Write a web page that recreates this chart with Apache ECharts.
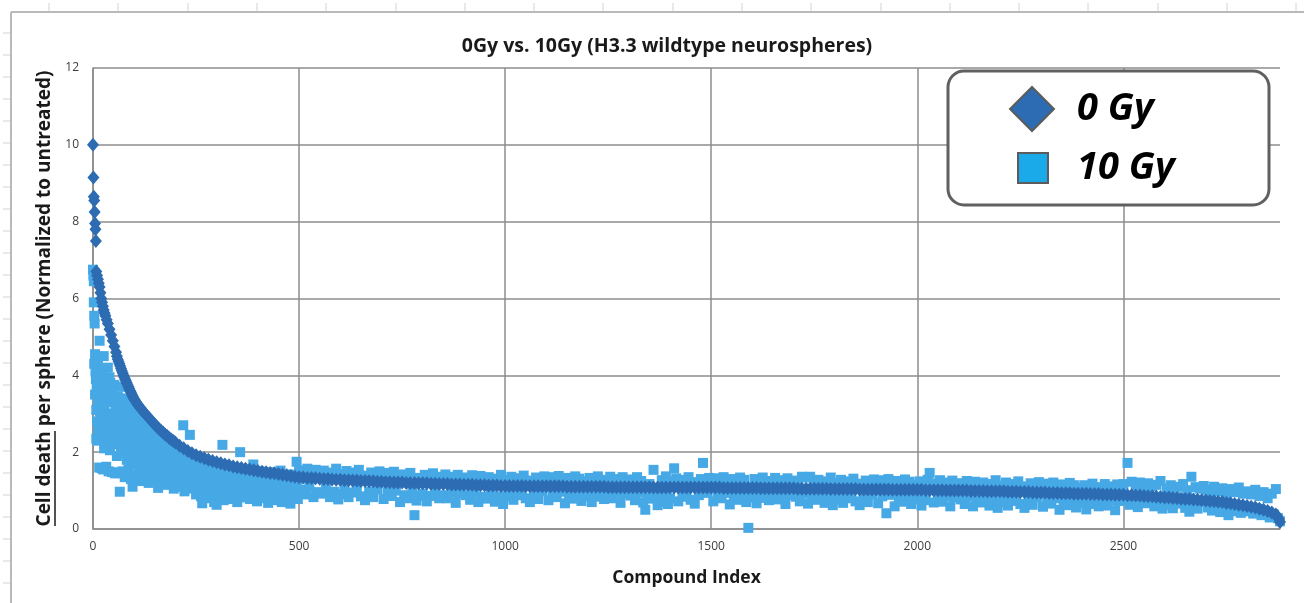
<!DOCTYPE html>
<html>
<head>
<meta charset="utf-8">
<script src="https://cdn.jsdelivr.net/npm/echarts@6/dist/echarts.min.js"></script>
<style>
  html, body { margin: 0; padding: 0; background: #ffffff; }
  #chart { width: 1304px; height: 603px; }
</style>
</head>
<body>
<div id="chart"></div>
<script>
const DARK = "#2d6cb2";
const LIGHT = "#46a9e6";
const FONT = "Open Sans";

// 0 Gy: sorted values; first few points read one by one, then every 10th compound
const zeroGyHead = [[0, 10.0], [1, 9.15], [2, 8.65], [3, 8.55], [4, 8.25], [5, 7.95], [6, 7.8], [7, 7.5],
  [8, 6.7], [10, 6.6], [12, 6.5], [14, 6.4], [16, 6.3], [18, 6.15], [20, 6.0], [22, 5.9], [24, 5.8],
  [26, 5.7], [28, 5.62], [30, 5.55], [33, 5.45], [36, 5.35], [40, 5.2], [44, 5.05], [48, 4.9],
  [52, 4.75], [56, 4.6]];
// extra readings where the 0 Gy curve bends steeply
const zeroGyBend = [[58, 4.5], [62, 4.36], [64, 4.3], [66, 4.24], [68, 4.18], [72, 4.06], [74, 4.0],
  [76, 3.95], [78, 3.9], [82, 3.8], [84, 3.75], [86, 3.7], [88, 3.65], [92, 3.56], [94, 3.51], [96, 3.46],
  [98, 3.42], [102, 3.35], [105, 3.3], [108, 3.25], [112, 3.19], [115, 3.15], [118, 3.11], [125, 3.02],
  [135, 2.9], [145, 2.78], [155, 2.66], [165, 2.56], [175, 2.46], [185, 2.37], [195, 2.29]];
const zeroGyStart = 60;
const zeroGyStep = 10;
const zeroGyBody = [
  4.42, 4.12, 3.85, 3.6, 3.38, 3.22, 3.08, 2.96, 2.84, 2.72,
  2.61, 2.51, 2.42, 2.33, 2.25, 2.17, 2.1, 2.03, 1.97, 1.92,
  1.88, 1.84, 1.8, 1.77, 1.74, 1.71, 1.68, 1.66, 1.63, 1.61,
  1.59, 1.57, 1.55, 1.53, 1.51, 1.49, 1.48, 1.46, 1.45, 1.43,
  1.41, 1.4, 1.38, 1.36,
  1.35, 1.34, 1.33, 1.33, 1.32, 1.31, 1.3, 1.3, 1.29, 1.28,
  1.28, 1.27, 1.27, 1.26, 1.26, 1.25, 1.25, 1.24, 1.24, 1.23,
  1.23, 1.22, 1.22, 1.21, 1.21, 1.21, 1.2, 1.2, 1.2, 1.19,
  1.19, 1.19, 1.18, 1.18, 1.17, 1.17, 1.17, 1.16, 1.16, 1.16,
  1.15, 1.15, 1.15, 1.14, 1.14, 1.14, 1.13, 1.13, 1.13, 1.12,
  1.12, 1.12, 1.12, 1.12, 1.12, 1.11, 1.11, 1.11, 1.11, 1.11,
  1.11, 1.11, 1.11, 1.11, 1.11, 1.1, 1.1, 1.1, 1.1, 1.1,
  1.1, 1.1, 1.1, 1.1, 1.1, 1.09, 1.09, 1.09, 1.09, 1.09,
  1.09, 1.09, 1.09, 1.09, 1.09, 1.09, 1.08, 1.08, 1.08, 1.08,
  1.08, 1.08, 1.08, 1.08, 1.08, 1.08, 1.08, 1.08, 1.08, 1.08,
  1.08, 1.08, 1.08, 1.07, 1.07, 1.07, 1.07, 1.07, 1.07, 1.07,
  1.07, 1.07, 1.06, 1.06, 1.06, 1.06, 1.06, 1.06, 1.06, 1.06,
  1.06, 1.05, 1.05, 1.05, 1.05, 1.05, 1.05, 1.05, 1.05, 1.04,
  1.04, 1.04, 1.04, 1.04, 1.04, 1.04, 1.03, 1.03, 1.03, 1.03,
  1.03, 1.03, 1.03, 1.03, 1.02, 1.02, 1.02, 1.02, 1.02, 1.02,
  1.02, 1.02, 1.01, 1.01, 1.01, 1.01, 1.01, 1.0, 1.0, 1.0,
  1.0, 1.0, 1.0, 0.99, 0.99, 0.99, 0.99, 0.98, 0.98, 0.98,
  0.98, 0.98, 0.97, 0.97, 0.97, 0.96, 0.96, 0.96, 0.95, 0.95,
  0.95, 0.95, 0.94, 0.94, 0.94, 0.93, 0.93, 0.93, 0.92, 0.92,
  0.92, 0.92, 0.91, 0.91, 0.91, 0.9, 0.9, 0.9, 0.89, 0.89,
  0.89, 0.88, 0.88, 0.87, 0.87, 0.86, 0.85, 0.85, 0.84, 0.83,
  0.82, 0.82, 0.81, 0.8, 0.79, 0.78, 0.78, 0.77, 0.76, 0.75,
  0.74, 0.73, 0.72, 0.71, 0.7, 0.68, 0.67, 0.65, 0.63, 0.62,
  0.6, 0.58, 0.56, 0.53, 0.5, 0.47, 0.43, 0.38
];
const zeroGyTail = [[2874, 0.32], [2877, 0.26], [2880, 0.18]];

// 10 Gy, steep part: stray points read one by one
const tenGyHead = [[0, 6.75], [1, 6.6], [2, 6.45], [2, 5.9], [3, 5.55], [4, 5.35], [5, 4.55], [6, 4.1],
  [7, 3.9], [8, 2.35], [9, 3.7], [10, 2.3], [11, 4.05], [12, 3.35], [13, 2.55], [14, 3.2], [15, 1.6],
  [16, 4.9], [17, 3.05], [18, 2.5], [19, 3.8], [20, 2.95], [21, 1.58], [22, 3.5], [23, 2.7], [24, 3.1],
  [25, 1.55], [26, 4.5], [27, 3.25], [28, 2.2], [29, 3.6], [30, 2.85], [32, 1.62], [33, 3.4], [34, 2.45],
  [36, 3.0], [38, 1.5], [40, 3.95], [41, 2.05], [43, 3.3], [44, 2.6], [46, 1.48], [47, 3.55], [49, 2.9],
  [50, 2.25], [52, 3.75], [53, 1.45], [55, 3.15], [56, 2.7], [58, 1.9], [60, 3.45], [62, 1.45], [63, 2.4],
  [65, 0.97], [66, 3.1], [68, 2.0], [70, 3.7], [71, 1.5], [73, 2.75], [75, 2.2], [77, 1.35], [78, 3.3],
  [80, 2.5], [82, 1.8], [84, 3.0], [86, 1.55], [88, 2.35], [90, 2.8], [92, 1.3], [94, 3.15], [96, 1.1],
  [97, 2.1], [99, 2.6], [101, 1.7], [103, 2.95], [105, 1.4], [107, 2.3], [109, 2.75], [111, 1.95],
  [113, 1.25], [115, 2.5], [117, 3.05], [119, 1.6], [121, 2.2], [123, 2.85], [125, 1.35], [127, 2.0],
  [129, 2.6], [131, 1.75], [133, 2.4], [135, 1.2], [137, 2.7], [139, 1.9], [141, 2.25], [143, 1.45],
  [145, 2.55], [147, 1.65], [149, 2.1], [151, 1.3], [153, 2.45], [155, 1.85], [158, 1.07], [160, 2.3],
  [162, 1.55], [164, 2.0], [166, 1.25], [168, 2.4], [170, 1.7], [172, 1.4], [174, 2.15], [176, 1.9],
  [178, 1.15], [180, 2.3], [182, 1.6], [184, 1.35], [186, 2.05], [188, 1.8], [190, 1.2], [192, 2.2],
  [194, 1.5], [196, 1.05], [198, 1.95], [200, 1.65], [203, 1.3], [206, 2.1], [209, 1.45], [212, 1.1],
  [215, 1.85], [219, 2.7], [222, 0.98], [225, 1.55], [228, 1.95], [231, 1.25], [235, 2.45], [238, 1.6],
  [241, 1.05], [244, 1.8], [247, 1.35], [250, 0.9], [253, 1.7], [256, 1.2], [259, 1.5], [262, 0.85],
  [265, 0.67], [268, 1.6], [271, 1.1], [274, 1.4], [277, 0.8], [280, 1.55], [283, 1.0], [286, 1.3],
  [288, 0.85], [291, 1.5], [294, 0.7], [297, 1.15], [300, 0.63], [303, 1.45], [306, 0.95], [309, 1.25],
  [314, 2.19], [317, 0.75], [320, 1.4], [323, 1.05], [326, 0.88], [329, 1.3], [332, 1.55], [335, 0.78],
  [338, 1.15], [341, 1.42], [344, 0.92], [347, 1.2], [350, 0.7], [353, 1.35], [357, 2.0], [360, 1.05],
  [363, 0.82], [366, 1.45], [369, 1.1], [372, 0.9], [375, 1.3], [378, 1.5], [381, 0.78], [384, 1.2],
  [389, 1.68], [392, 0.95], [395, 1.35], [398, 0.72], [401, 1.15], [404, 1.5], [407, 0.88], [410, 1.25],
  [413, 1.0], [416, 1.45], [419, 0.8], [422, 1.3], [425, 0.68], [428, 1.1], [431, 1.48], [434, 0.9],
  [437, 1.2], [440, 0.75], [443, 1.4], [446, 1.05], [449, 0.85], [452, 1.3], [455, 1.52], [458, 0.7],
  [461, 1.15], [464, 0.95], [467, 1.38], [470, 0.8], [473, 1.25], [476, 1.05], [479, 0.66], [482, 1.42],
  [485, 0.9], [488, 1.2], [491, 1.0], [494, 1.75], [497, 0.78]];

// 10 Gy, steep part: the solid cloud under the 0 Gy curve
const tenGyHeadCore = [[3, 4.3], [5, 3.5], [8, 3.1], [10, 2.8], [12, 4.3], [14, 2.6], [17, 3.9], [19, 2.4],
  [21, 3.4], [23, 4.1], [25, 2.9], [27, 2.1], [29, 3.0], [31, 3.7], [34, 2.7], [36, 4.2], [38, 3.3],
  [40, 2.5], [42, 3.8], [44, 3.0], [46, 2.3], [48, 3.4], [50, 2.7], [52, 3.0], [54, 2.5], [57, 3.4],
  [59, 2.2], [61, 2.8], [64, 3.3], [67, 2.5], [69, 3.0], [72, 2.3], [74, 3.4], [76, 2.6], [79, 2.9],
  [81, 2.1], [83, 2.6], [85, 3.2], [87, 1.9], [89, 2.5], [91, 2.9], [93, 1.7], [95, 2.4], [98, 2.8],
  [100, 1.9], [102, 2.5], [104, 2.2], [106, 1.8], [108, 2.6], [110, 1.5], [112, 2.3], [114, 2.0],
  [116, 1.7], [118, 2.6], [120, 1.9], [122, 2.4], [124, 1.6], [126, 2.3], [128, 1.8], [130, 2.5],
  [132, 1.5], [134, 2.1], [136, 1.8], [138, 2.35], [140, 1.6], [142, 2.0], [144, 1.75], [146, 2.3],
  [148, 1.5], [150, 1.95], [152, 1.7], [154, 2.2], [156, 1.45], [159, 1.9], [161, 1.65], [163, 2.15],
  [165, 1.5], [167, 1.85], [169, 2.05], [171, 1.3], [173, 1.75], [175, 1.55], [177, 2.0], [179, 1.45],
  [181, 1.85], [183, 1.65], [185, 1.25], [187, 1.95], [189, 1.5], [191, 1.7], [193, 1.35], [195, 1.9],
  [197, 1.55], [199, 1.25], [201, 1.8], [204, 1.55], [207, 1.35], [210, 1.75], [213, 1.55], [216, 1.3],
  [218, 1.7], [221, 1.45], [224, 1.2], [226, 1.75], [229, 1.4], [232, 1.6], [234, 1.15], [237, 1.5],
  [240, 1.3], [243, 1.65], [246, 1.1], [249, 1.45], [252, 1.25], [255, 1.55], [258, 1.0], [261, 1.35],
  [264, 1.15], [267, 1.45], [270, 0.95], [273, 1.25], [276, 1.55], [279, 1.05], [282, 1.35], [285, 1.15],
  [287, 1.5], [290, 0.95], [293, 1.3], [296, 1.45], [299, 1.05], [302, 1.3], [305, 1.5], [308, 1.1],
  [311, 0.85], [313, 1.35], [316, 1.2], [319, 1.5], [322, 0.95], [325, 1.3], [328, 1.1], [331, 1.45],
  [334, 1.0], [337, 1.35], [340, 0.85], [343, 1.25], [346, 1.45], [349, 1.05], [352, 0.9], [355, 1.3],
  [358, 1.1], [361, 1.4], [364, 0.95], [367, 1.25], [370, 1.05], [373, 1.4], [376, 0.85], [379, 1.2],
  [382, 1.35], [385, 0.95], [388, 1.15], [391, 1.38], [394, 1.05], [397, 0.9], [400, 1.3], [403, 1.0],
  [406, 1.2], [409, 1.4], [412, 0.82], [415, 1.1], [418, 1.3], [421, 0.95], [424, 1.2], [427, 1.38],
  [430, 0.8], [433, 1.05], [436, 1.3], [439, 0.95], [442, 1.15], [445, 1.35], [448, 0.78], [451, 1.1],
  [454, 1.25], [457, 0.95], [460, 1.3], [463, 0.8], [466, 1.1], [469, 1.28], [472, 0.92], [475, 1.15],
  [478, 1.33], [481, 0.85], [484, 1.05], [487, 1.3], [490, 0.88], [493, 1.15], [496, 1.28], [499, 0.95]];

// 10 Gy, flat part: every 5th compound from 500 on
const tenGyStart = 500;
const tenGyStep = 5;
const tenGyBody = [
  1.52, 1.02, 1.42, 0.9, 1.57, 1.09, 1.47, 0.83, 1.54, 0.96, 1.38, 0.92, 1.52, 1.04, 1.43, 0.83, 1.47, 0.97, 1.57, 0.77,
  0.91, 1.43, 1.03, 1.51, 0.83, 1.37, 0.95, 1.47, 1.07, 1.54, 0.85, 1.39, 0.75, 1.31, 0.97, 1.47, 0.83, 1.43, 1.03, 1.5,
  1.34, 0.78, 1.46, 0.96, 1.4, 0.86, 1.49, 1.0, 1.37, 0.7, 1.42, 0.88, 1.28, 0.8, 1.46, 0.96, 0.36, 0.74, 1.33, 0.86,
  0.92, 1.41, 0.72, 1.28, 0.86, 1.45, 0.98, 1.36, 0.8, 1.32, 0.88, 1.42, 0.8, 1.36, 0.94, 1.25, 0.68, 1.41, 0.92, 1.33,
  1.34, 0.88, 1.24, 0.76, 1.4, 0.96, 1.3, 0.7, 1.38, 0.84, 1.21, 0.79, 1.35, 0.91, 1.27, 0.71, 1.31, 0.85, 1.41, 0.65,
  0.84, 1.28, 0.96, 1.36, 0.76, 1.22, 0.88, 1.32, 1.0, 1.39, 0.8, 1.26, 0.7, 1.18, 0.92, 1.34, 0.78, 1.3, 0.98, 1.37,
  1.23, 0.75, 1.35, 0.93, 1.29, 0.83, 1.38, 0.97, 1.26, 0.67, 1.33, 0.87, 1.19, 0.79, 1.37, 0.95, 1.31, 0.73, 1.24, 0.85,
  0.9, 1.33, 0.7, 1.2, 0.84, 1.37, 0.96, 1.28, 0.78, 1.24, 0.88, 1.36, 0.8, 1.3, 0.94, 1.19, 0.68, 1.35, 0.92, 1.27,
  1.29, 0.87, 1.19, 0.75, 1.35, 0.95, 1.25, 0.69, 0.5, 0.83, 1.17, 0.79, 1.54, 0.91, 0.62, 0.71, 1.27, 0.85, 1.37, 0.65,
  0.8, 1.24, 1.58, 1.32, 0.72, 1.18, 0.84, 1.28, 0.96, 1.35, 0.76, 1.22, 0.66, 1.14, 0.88, 1.3, 1.72, 1.26, 0.94, 1.33,
  1.2, 0.72, 1.32, 0.9, 1.26, 0.8, 1.35, 0.94, 1.23, 0.64, 1.3, 0.84, 1.16, 0.76, 1.34, 0.92, 1.28, 0.7, 0.03, 0.82,
  0.87, 1.3, 0.67, 1.17, 0.81, 1.34, 0.93, 1.25, 0.75, 1.21, 0.85, 1.33, 0.77, 1.27, 0.91, 1.16, 0.65, 1.32, 0.89, 1.24,
  1.26, 0.84, 1.16, 0.72, 1.36, 0.92, 1.34, 0.66, 1.36, 0.8, 1.14, 0.76, 1.28, 0.88, 1.2, 0.68, 1.24, 0.82, 1.34, 0.62,
  0.76, 1.2, 0.88, 1.28, 0.68, 1.14, 0.8, 1.24, 0.92, 1.31, 0.72, 1.18, 0.62, 1.1, 0.84, 1.26, 0.7, 1.22, 0.9, 1.29,
  1.15, 0.67, 1.27, 0.85, 1.21, 0.41, 1.3, 0.89, 1.18, 0.59, 1.25, 0.79, 1.11, 0.71, 1.29, 0.87, 1.23, 0.65, 1.16, 0.77,
  0.81, 1.24, 0.61, 1.11, 0.75, 1.28, 1.46, 1.19, 0.69, 1.15, 0.79, 1.27, 0.71, 1.21, 0.85, 1.1, 0.59, 1.26, 0.83, 1.18,
  1.19, 0.77, 1.09, 0.65, 1.25, 0.85, 1.15, 0.59, 1.23, 0.73, 1.07, 0.69, 1.21, 0.81, 1.13, 0.61, 1.17, 0.75, 1.27, 0.55,
  0.69, 1.13, 0.81, 1.21, 0.61, 1.07, 0.73, 1.17, 0.85, 1.24, 0.65, 1.11, 0.55, 1.03, 0.77, 1.19, 0.63, 1.15, 0.83, 1.22,
  1.06, 0.58, 1.18, 0.76, 1.12, 0.66, 1.21, 0.8, 1.09, 0.5, 1.16, 0.7, 1.02, 0.62, 1.2, 0.78, 1.14, 0.56, 1.07, 0.68,
  0.71, 1.14, 0.51, 1.01, 0.65, 1.18, 0.77, 1.09, 0.59, 1.05, 0.69, 1.17, 0.61, 1.11, 0.75, 1.0, 0.49, 1.16, 0.73, 1.08,
  1.17, 0.75, 1.72, 0.63, 1.23, 0.83, 1.13, 0.57, 1.21, 0.71, 1.05, 0.67, 1.19, 0.79, 1.11, 0.59, 1.15, 0.73, 1.25, 0.53,
  0.62, 1.06, 0.74, 1.14, 0.54, 1.0, 0.66, 1.1, 0.78, 1.17, 0.55, 1.01, 0.45, 1.36, 0.67, 1.09, 0.53, 1.05, 0.73, 1.12,
  1.02, 0.56, 0.94, 0.48, 1.1, 0.6, 0.98, 0.44, 1.06, 0.52, 0.9, 0.36, 1.04, 0.5, 0.96, 0.46, 1.08, 0.42, 0.92, 0.5,
  0.98, 0.46, 0.9, 0.4, 1.02, 0.52, 0.86, 0.36, 0.96, 0.44, 0.8, 0.3, 0.92, 0.38, 1.04, 0.28, 0.2
];

const zeroGy = [
  ...zeroGyHead,
  ...zeroGyBend,
  ...zeroGyBody.map((v, i) => [zeroGyStart + i * zeroGyStep, v]),
  ...zeroGyTail,
];
const tenGy = [
  ...tenGyHead,
  ...tenGyHeadCore,
  ...tenGyBody.map((v, i) => [tenGyStart + i * tenGyStep, v]),
];

// spreadsheet cell edges peeking around the chart
const sheet = [
  { type: "line", shape: { x1: 11, y1: 12, x2: 1304, y2: 12 }, style: { stroke: "#b9b9b9", lineWidth: 2 }, silent: true },
  { type: "line", shape: { x1: 11, y1: 12, x2: 11, y2: 603 }, style: { stroke: "#b9b9b9", lineWidth: 2 }, silent: true },
];
for (let x = 49; x < 1304; x += 69.3) {
  sheet.push({ type: "line", shape: { x1: Math.round(x), y1: 3, x2: Math.round(x), y2: 11 }, style: { stroke: "#d4d4d4", lineWidth: 1 }, silent: true });
}
for (let y = 33; y < 603; y += 22) {
  sheet.push({ type: "line", shape: { x1: 3, y1: Math.round(y), x2: 10, y2: Math.round(y) }, style: { stroke: "#d4d4d4", lineWidth: 1 }, silent: true });
}

const legendText = { fontFamily: FONT, fontSize: 38, fontWeight: "bold", fontStyle: "italic", color: "#000" };

const chart = echarts.init(document.getElementById("chart"), null, { renderer: "canvas" });
chart.setOption({
  animation: false,
  backgroundColor: "#ffffff",
  textStyle: { fontFamily: FONT },
  title: {
    text: "0Gy vs. 10Gy (H3.3 wildtype neurospheres)",
    left: 662,
    top: 31,
    textAlign: "center",
    textStyle: { fontFamily: FONT, fontSize: 19.5, fontWeight: "bold", color: "#1a1a1a" },
  },
  grid: { left: 93, right: 24, top: 68, bottom: 74 },
  legend: [
    {
      data: [{ name: "0 Gy", icon: "diamond", itemStyle: { color: DARK, opacity: 1, borderColor: "#5c5c5c", borderWidth: 2 } }],
      left: 1009, top: 86, padding: 0, itemWidth: 44, itemHeight: 44, selectedMode: false, z: 10,
      textStyle: { ...legendText, padding: [0, 0, 0, 18] },
    },
    {
      data: [{ name: "10 Gy", icon: "rect", itemStyle: { color: "#1aaaea", opacity: 1, borderColor: "#5c5c5c", borderWidth: 2 } }],
      left: 1017, top: 149, padding: 0, itemWidth: 30, itemHeight: 30, selectedMode: false, z: 10,
      textStyle: { ...legendText, padding: [0, 0, 0, 24] },
    },
  ],
  xAxis: {
    type: "value",
    min: 0,
    max: 2880,
    interval: 500,
    name: "Compound Index",
    nameLocation: "middle",
    nameGap: 40,
    nameTextStyle: { fontFamily: FONT, fontSize: 17.5, fontWeight: "bold", color: "#1a1a1a" },
    axisLine: { lineStyle: { color: "#8c8c8c", width: 1.5 } },
    axisTick: { show: false },
    axisLabel: { color: "#3c3c3c", fontSize: 12, margin: 12, showMaxLabel: false, formatter: (v) => String(v) },
    splitLine: { show: true, showMaxLine: false, lineStyle: { color: "#8c8c8c", width: 1.5 } },
  },
  yAxis: {
    type: "value",
    min: 0,
    max: 12,
    interval: 2,
    name: "Cell death per sphere (Normalized to untreated)",
    nameLocation: "middle",
    nameGap: 37,
    nameTextStyle: { fontFamily: FONT, fontSize: 19, fontWeight: "bold", color: "#1a1a1a" },
    axisLine: { show: true, lineStyle: { color: "#8c8c8c", width: 1.5 } },
    axisTick: { show: false },
    axisLabel: { color: "#3c3c3c", fontSize: 12, margin: 14 },
    splitLine: { lineStyle: { color: "#8c8c8c", width: 1.5 } },
  },
  graphic: [
    ...sheet,
    // underline under "Cell death" in the rotated axis name
    { type: "line", shape: { x1: 55, y1: 431, x2: 55, y2: 526 }, style: { stroke: "#1a1a1a", lineWidth: 1.5 }, silent: true },
    {
      type: "rect",
      shape: { x: 948, y: 71, width: 321, height: 134, r: 16 },
      style: { fill: "#ffffff", stroke: "#606060", lineWidth: 3 },
      z: 3,
      silent: true,
    },
  ],
  series: [
    {
      name: "10 Gy",
      type: "scatter",
      symbol: "rect",
      symbolSize: 10,
      itemStyle: { color: LIGHT, opacity: 1 },
      data: tenGy,
      z: 2,
    },
    {
      name: "0 Gy",
      type: "scatter",
      symbol: "diamond",
      symbolSize: [12, 14],
      itemStyle: { color: DARK, opacity: 1 },
      data: zeroGy,
      z: 2.5,
    },
  ],
});
</script>
</body>
</html>
